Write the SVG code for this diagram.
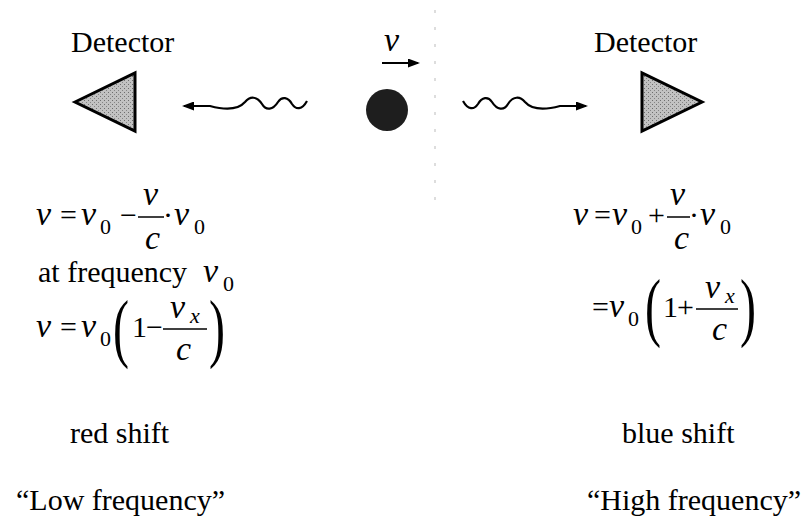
<svg xmlns="http://www.w3.org/2000/svg" width="806" height="525" viewBox="0 0 806 525">
<defs>
<marker id="ah" markerWidth="12" markerHeight="9" refX="10" refY="4.5" orient="auto" markerUnits="userSpaceOnUse">
<path d="M0,0 L12,4.5 L0,9 Z" fill="#000"/>
</marker>
<pattern id="stip" width="4" height="4" patternUnits="userSpaceOnUse">
<rect width="4" height="4" fill="#c2c2c2"/>
<rect x="0" y="0" width="1" height="1" fill="#6e6e6e"/>
<rect x="2" y="2" width="1" height="1" fill="#858585"/>
</pattern>
<style>
.bar{stroke:#000;stroke-width:1.5}
.det{fill:url(#stip);stroke:#000;stroke-width:3;stroke-linejoin:miter}
.wave{fill:none;stroke:#000;stroke-width:2.2}
</style>
</defs>
<rect width="806" height="525" fill="#fff"/>
<line x1="435" y1="10" x2="435" y2="200" stroke="#bbbbbb" stroke-width="1" stroke-dasharray="3,14"/>

<g id="detector-left">
<text x="71" y="52" font-family="Liberation Serif" font-size="30">Detector</text>
<polygon class="det" points="75,102 135,73 135,131"/>
</g>
<g id="detector-right">
<text x="594" y="52" font-family="Liberation Serif" font-size="30">Detector</text>
<polygon class="det" points="642,73 642,131 702,102"/>
</g>
<g id="source">
<text x="384" y="51" font-family="Liberation Serif" font-size="34" font-style="italic">ν</text>
<line x1="382" y1="63" x2="418" y2="63" stroke="#000" stroke-width="2" marker-end="url(#ah)"/>
<circle cx="387" cy="110" r="21" fill="#1e1e1e"/>
</g>

<g id="connectors">
<path class="wave" marker-end="url(#ah)" d="M307,101 C302,110 296,110 292,104 C288,97 282,96 278,102 C273,110 266,111 262,104 C257,96 250,96 245,102 C238,110 225,110 210,106 L184,106"/>
<path class="wave" marker-end="url(#ah)" d="M463,101 C468,110 474,110 478,104 C482,97 488,96 492,102 C497,110 504,111 508,104 C513,96 520,96 525,102 C532,110 545,110 560,106 L586,106"/>
</g>

<g id="left-equations">
<text x="36" y="225" font-family="Liberation Serif" font-size="34" font-style="italic">ν</text>
<text x="60" y="225" font-family="Liberation Serif" font-size="30">=</text>
<text x="81" y="225" font-family="Liberation Serif" font-size="34" font-style="italic">ν</text>
<text x="100" y="234" font-family="Liberation Serif" font-size="22">0</text>
<text x="120" y="225" font-family="Liberation Serif" font-size="30">−</text>
<text x="143" y="205" font-family="Liberation Serif" font-size="34" font-style="italic">ν</text>
<line class="bar" x1="138" y1="217" x2="164" y2="217"/>
<text x="145" y="249" font-family="Liberation Serif" font-size="34" font-style="italic">c</text>
<text x="163" y="225" font-family="Liberation Serif" font-size="30">·</text>
<text x="174" y="225" font-family="Liberation Serif" font-size="34" font-style="italic">ν</text>
<text x="194" y="234" font-family="Liberation Serif" font-size="22">0</text>

<text x="38" y="282" font-family="Liberation Serif" font-size="30">at frequency</text>
<text x="203" y="282" font-family="Liberation Serif" font-size="34" font-style="italic">ν</text>
<text x="223" y="291" font-family="Liberation Serif" font-size="22">0</text>

<text x="36" y="337" font-family="Liberation Serif" font-size="34" font-style="italic">ν</text>
<text x="60" y="337" font-family="Liberation Serif" font-size="30">=</text>
<text x="81" y="337" font-family="Liberation Serif" font-size="34" font-style="italic">ν</text>
<text x="100" y="346" font-family="Liberation Serif" font-size="22">0</text>
<text transform="translate(113,353) scale(1,1.6)" font-family="Liberation Serif" font-size="48">(</text>
<text x="132" y="337" font-family="Liberation Serif" font-size="30">1</text>
<text x="146" y="337" font-family="Liberation Serif" font-size="30">−</text>
<text x="170" y="318" font-family="Liberation Serif" font-size="34" font-style="italic">ν</text>
<text x="190" y="323" font-family="Liberation Serif" font-size="22" font-style="italic">x</text>
<line class="bar" x1="163" y1="329" x2="207" y2="329"/>
<text x="176" y="360" font-family="Liberation Serif" font-size="34" font-style="italic">c</text>
<text transform="translate(209,353) scale(1,1.6)" font-family="Liberation Serif" font-size="48">)</text>

<text x="70" y="443" font-family="Liberation Serif" font-size="30">red shift</text>
<text x="16" y="510" font-family="Liberation Serif" font-size="30">“Low frequency”</text>
</g>

<g id="right-equations">
<text x="573" y="225" font-family="Liberation Serif" font-size="34" font-style="italic">ν</text>
<text x="594" y="225" font-family="Liberation Serif" font-size="30">=</text>
<text x="612" y="225" font-family="Liberation Serif" font-size="34" font-style="italic">ν</text>
<text x="631" y="234" font-family="Liberation Serif" font-size="22">0</text>
<text x="648" y="225" font-family="Liberation Serif" font-size="30">+</text>
<text x="670" y="205" font-family="Liberation Serif" font-size="34" font-style="italic">ν</text>
<line class="bar" x1="667" y1="217" x2="690" y2="217"/>
<text x="674" y="249" font-family="Liberation Serif" font-size="34" font-style="italic">c</text>
<text x="689" y="225" font-family="Liberation Serif" font-size="30">·</text>
<text x="700" y="225" font-family="Liberation Serif" font-size="34" font-style="italic">ν</text>
<text x="720" y="234" font-family="Liberation Serif" font-size="22">0</text>

<text x="592" y="317" font-family="Liberation Serif" font-size="30">=</text>
<text x="609" y="317" font-family="Liberation Serif" font-size="34" font-style="italic">ν</text>
<text x="628" y="326" font-family="Liberation Serif" font-size="22">0</text>
<text transform="translate(645,332) scale(1,1.6)" font-family="Liberation Serif" font-size="48">(</text>
<text x="663" y="317" font-family="Liberation Serif" font-size="30">1</text>
<text x="677" y="317" font-family="Liberation Serif" font-size="30">+</text>
<text x="705" y="298" font-family="Liberation Serif" font-size="34" font-style="italic">ν</text>
<text x="725" y="303" font-family="Liberation Serif" font-size="22" font-style="italic">x</text>
<line class="bar" x1="696" y1="309" x2="738" y2="309"/>
<text x="712" y="340" font-family="Liberation Serif" font-size="34" font-style="italic">c</text>
<text transform="translate(740,332) scale(1,1.6)" font-family="Liberation Serif" font-size="48">)</text>

<text x="622" y="443" font-family="Liberation Serif" font-size="30">blue shift</text>
<text x="587" y="510" font-family="Liberation Serif" font-size="30">“High frequency”</text>
</g>
</svg>
